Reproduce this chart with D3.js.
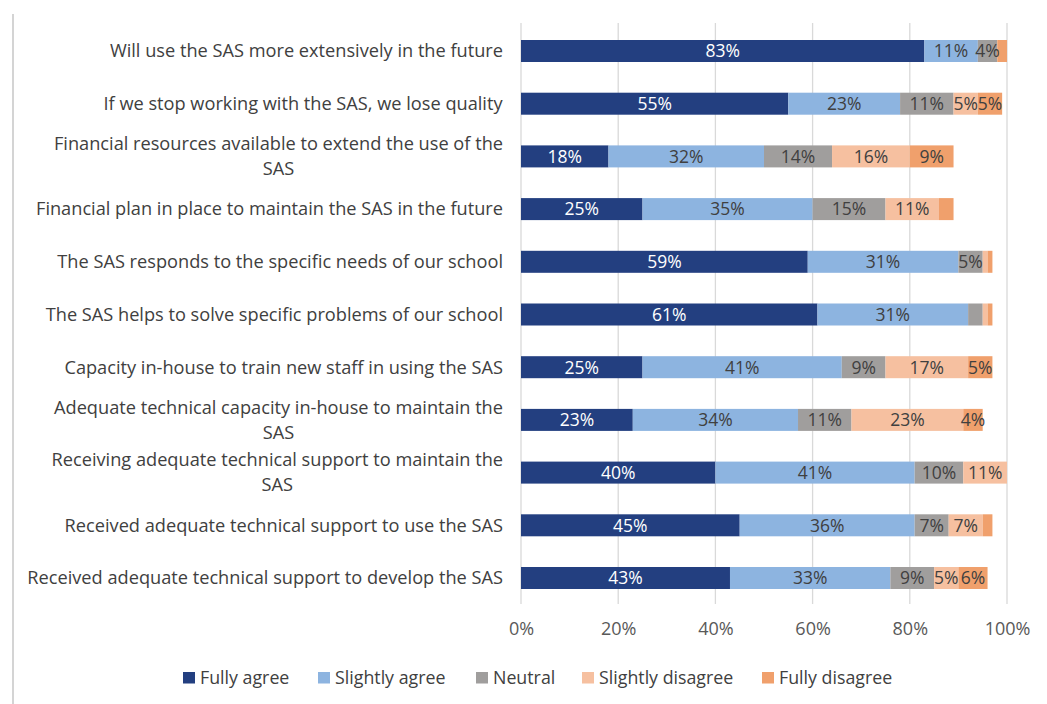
<!DOCTYPE html>
<html>
<head>
<meta charset="utf-8">
<script src="https://cdn.jsdelivr.net/npm/d3@7"></script>
<style>
  html, body { margin: 0; padding: 0; background: #fff; }
  svg { display: block; font-family: "Open Sans", "Noto Sans", sans-serif; }
</style>
</head>
<body>
<svg id="chart" width="1047" height="704"></svg>
<script>
// Survey statements (top to bottom); wrapped statements are given as separate lines
const statements = [
  ["Will use the SAS more extensively in the future"],
  ["If we stop working with the SAS, we lose quality"],
  ["Financial resources available to extend the use of the", "SAS"],
  ["Financial plan in place to maintain the SAS in the future"],
  ["The SAS responds to the specific needs of our school"],
  ["The SAS helps to solve specific problems of our school"],
  ["Capacity in-house to train new staff in using the SAS"],
  ["Adequate technical capacity in-house to maintain the", "SAS"],
  ["Receiving adequate technical support to maintain the", "SAS"],
  ["Received adequate technical support to use the SAS"],
  ["Received adequate technical support to develop the SAS"]
];

const seriesNames = ["Fully agree", "Slightly agree", "Neutral", "Slightly disagree", "Fully disagree"];
const seriesColors = ["#233f80", "#8db4e0", "#a09e9d", "#f6c0a0", "#f0a06c"];

// Percentages per response category, one value per statement
const fullyAgree       = [83, 55, 18, 25, 59, 61, 25, 23, 40, 45, 43];
const slightlyAgree    = [11, 23, 32, 35, 31, 31, 41, 34, 41, 36, 33];
const neutral          = [ 4, 11, 14, 15,  5,  3,  9, 11, 10,  7,  9];
const slightlyDisagree = [ 0,  5, 16, 11,  1,  1, 17, 23, 11,  7,  5];
const fullyDisagree    = [ 2,  5,  9,  3,  1,  1,  5,  4,  0,  2,  6];

const xTicks = [0, 20, 40, 60, 80, 100];

const seriesValues = [fullyAgree, slightlyAgree, neutral, slightlyDisagree, fullyDisagree];
const labelText = s => s.join(" ");

const rows = statements.map((s, i) => {
  const r = { key: labelText(s) };
  seriesNames.forEach((n, j) => { r[n] = seriesValues[j][i]; });
  return r;
});

const svg = d3.select("#chart");

// frame edge on the left
svg.append("line")
  .attr("x1", 13).attr("x2", 13).attr("y1", 14).attr("y2", 704)
  .attr("stroke", "#d4d4d4").attr("stroke-width", 2);

const x = d3.scaleLinear().domain([0, 100]).range([521, 1007]);
const y = d3.scaleBand()
  .domain(rows.map(r => r.key))
  .range([24.65, 604.35])
  .paddingInner(0.5825)
  .paddingOuter(0.29125);

// vertical gridlines
svg.append("g")
  .selectAll("line")
  .data(xTicks)
  .join("line")
  .attr("x1", d => x(d)).attr("x2", d => x(d))
  .attr("y1", 23).attr("y2", 604)
  .attr("stroke", "#d9d9d9").attr("stroke-width", 1.3);

// x axis labels
const xAxis = d3.axisBottom(x).tickValues(xTicks).tickFormat(d => d + "%").tickSize(0).tickPadding(0);
const gx = svg.append("g").attr("transform", "translate(0,622)").call(xAxis);
gx.select(".domain").remove();
gx.selectAll("text")
  .attr("fill", "#595959")
  .attr("font-size", 18)
  .attr("font-family", "Open Sans, sans-serif")
  .attr("dy", "0.71em");

// stacked bars
const stack = d3.stack().keys(seriesNames);
const layers = stack(rows);

svg.append("defs").append("clipPath").attr("id", "plotClip")
  .append("rect").attr("x", x(0)).attr("y", 0).attr("width", x(100) - x(0)).attr("height", 704);

const barG = svg.append("g").attr("clip-path", "url(#plotClip)");
layers.forEach((layer, j) => {
  barG.append("g")
    .attr("fill", seriesColors[j])
    .selectAll("rect")
    .data(layer)
    .join("rect")
    .attr("x", d => x(d[0]))
    .attr("y", d => y(d.data.key))
    .attr("width", d => Math.max(0, x(d[1]) - x(d[0])))
    .attr("height", y.bandwidth());
});

// value labels, centred in the visible part of each segment
const labelG = svg.append("g");
layers.forEach((layer, j) => {
  labelG.append("g")
    .selectAll("text")
    .data(layer.filter(d => (d[1] - d[0]) >= 4))
    .join("text")
    .attr("x", d => (x(d[0]) + x(Math.min(100, d[1]))) / 2)
    .attr("y", d => y(d.data.key) + y.bandwidth() / 2)
    .attr("dy", "0.36em")
    .attr("text-anchor", "middle")
    .attr("font-size", 17.5)
    .attr("fill", j === 0 ? "#ffffff" : "#404040")
    .text(d => (d[1] - d[0]) + "%");
});

// category labels: block right-aligned, wrapped lines centred on each other
const catG = svg.append("g");
statements.forEach(lines => {
  const key = labelText(lines);
  const cy = y(key) + y.bandwidth() / 2;
  const g = catG.append("g");
  const lh = 25;
  const t = g.append("text")
    .attr("font-size", 18.2)
    .attr("fill", "#404040")
    .attr("text-anchor", "middle");
  lines.forEach((ln, k) => {
    t.append("tspan")
      .attr("x", 0)
      .attr("y", cy + (k - (lines.length - 1) / 2) * lh)
      .attr("dy", "0.35em")
      .text(ln);
  });
  const w = t.node().getBBox().width;
  g.attr("transform", `translate(${503 - w / 2},0)`);
});

// legend
const legendX = [183, 318, 476, 582, 762];
const lg = svg.append("g");
seriesNames.forEach((n, j) => {
  const item = lg.append("g").attr("transform", `translate(${legendX[j]},678)`);
  item.append("rect").attr("x", 0).attr("y", -6).attr("width", 12).attr("height", 11.5).attr("fill", seriesColors[j]);
  item.append("text").attr("x", 17).attr("y", 0).attr("dy", "0.35em")
    .attr("font-size", 17.8).attr("fill", "#404040").text(n);
});
</script>
</body>
</html>
